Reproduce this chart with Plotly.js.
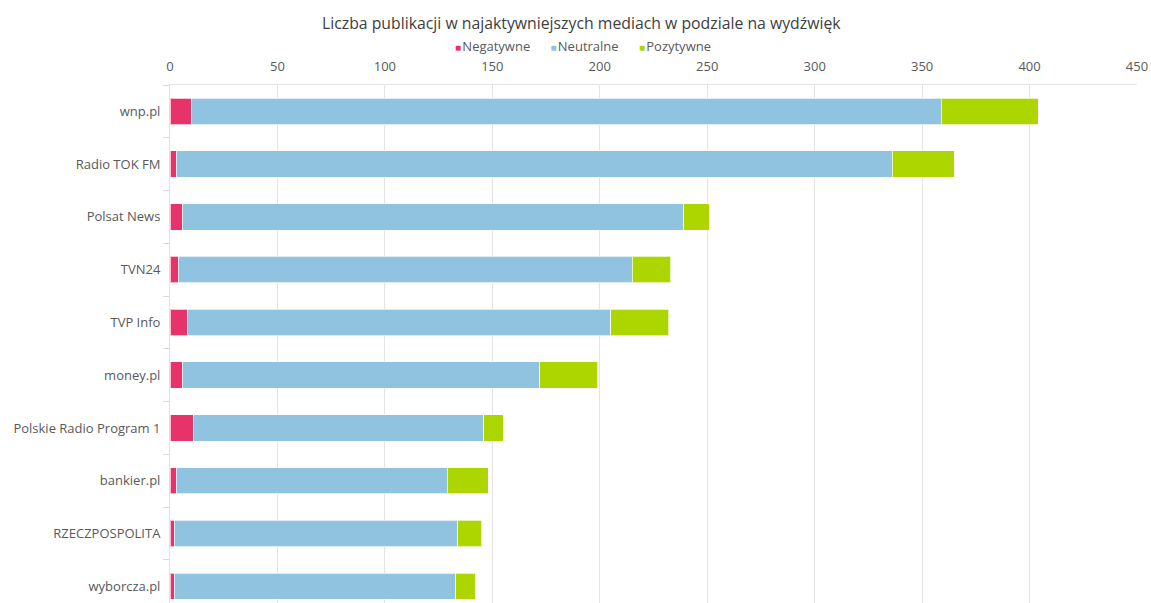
<!DOCTYPE html>
<html>
<head>
<meta charset="utf-8">
<script src="https://cdn.plot.ly/plotly-3.0.1.min.js"></script>
<style>html,body{margin:0;padding:0;background:#fff;}#chart{width:1151px;height:603px;}</style>
</head>
<body>
<div id="chart"></div>
<script>
const categories = ["wnp.pl","Radio TOK FM","Polsat News","TVN24","TVP Info","money.pl","Polskie Radio Program 1","bankier.pl","RZECZPOSPOLITA","wyborcza.pl"];
const negatywne = [10, 3, 6, 4, 8, 6, 11, 3, 2, 2];
const neutralne = [349, 333, 233, 211, 197, 166, 135, 126, 132, 131];
const pozytywne = [45, 29, 12, 18, 27, 27, 9, 19, 11, 9];
const xTicks = [0, 50, 100, 150, 200, 250, 300, 350, 400, 450];
const seriesNames = ["Negatywne", "Neutralne", "Pozytywne"];
const seriesColors = ["#E8336A", "#8FC3DF", "#ADD500"];

const FONT = "Open Sans, Noto Sans, sans-serif";
const lineStyle = {color: "rgba(255,255,255,0.7)", width: 1};
const seriesValues = [negatywne, neutralne, pozytywne];

const traces = seriesNames.map((name, i) => ({
  type: "bar", orientation: "h", name: name, y: categories, x: seriesValues[i],
  marker: {color: seriesColors[i], line: lineStyle}, showlegend: false
}));

const legendText = seriesNames.map((n, i) =>
  '<span style="color:' + seriesColors[i] + ';font-size:10px">■</span>&#8202;' + n
).join('&nbsp;&nbsp;&nbsp;&nbsp;&nbsp;&nbsp;');

const layout = {
  width: 1151, height: 603,
  margin: {l: 170, r: 14, t: 85, b: 0, pad: 0},
  paper_bgcolor: "#fff", plot_bgcolor: "#fff",
  barmode: "stack", bargap: 0.5,
  font: {family: FONT, size: 13, color: "#595959"},
  title: {text: "Liczba publikacji w najaktywniejszych mediach w podziale na wydźwięk",
          font: {family: FONT, size: 15.8, color: "#404040"},
          x: 0.505, xref: "container", xanchor: "center",
          y: 1 - 23/603, yref: "container", yanchor: "middle"},
  showlegend: false,
  annotations: [{
    text: legendText, showarrow: false,
    xref: "paper", yref: "paper",
    x: (583 - 170) / 967, xanchor: "center",
    y: (603 - 46) / 518, yanchor: "middle",
    font: {family: FONT, size: 13, color: "#595959"}
  }],
  xaxis: {side: "top", range: [0, 450], tickvals: xTicks, ticktext: xTicks.map(String),
          showgrid: true, gridcolor: "#e3e3e3", gridwidth: 1,
          zeroline: false, showline: true, linecolor: "#e3e3e3", mirror: false,
          ticks: "", ticklabelstandoff: 8, fixedrange: true,
          tickfont: {family: FONT, size: 13, color: "#595959"}},
  yaxis: {type: "category", categoryorder: "array", categoryarray: categories,
          range: [9.318, -0.5], autorange: false,
          showgrid: false, zeroline: false, showline: true, linecolor: "#e3e3e3",
          ticks: "outside", tickson: "boundaries", ticklen: 6, tickcolor: "#d9d9d9",
          ticklabelstandoff: 6,
          tickfont: {family: FONT, size: 13, color: "#595959"}}
};

Plotly.newPlot("chart", traces, layout, {displayModeBar: false, responsive: false});
</script>
</body>
</html>
